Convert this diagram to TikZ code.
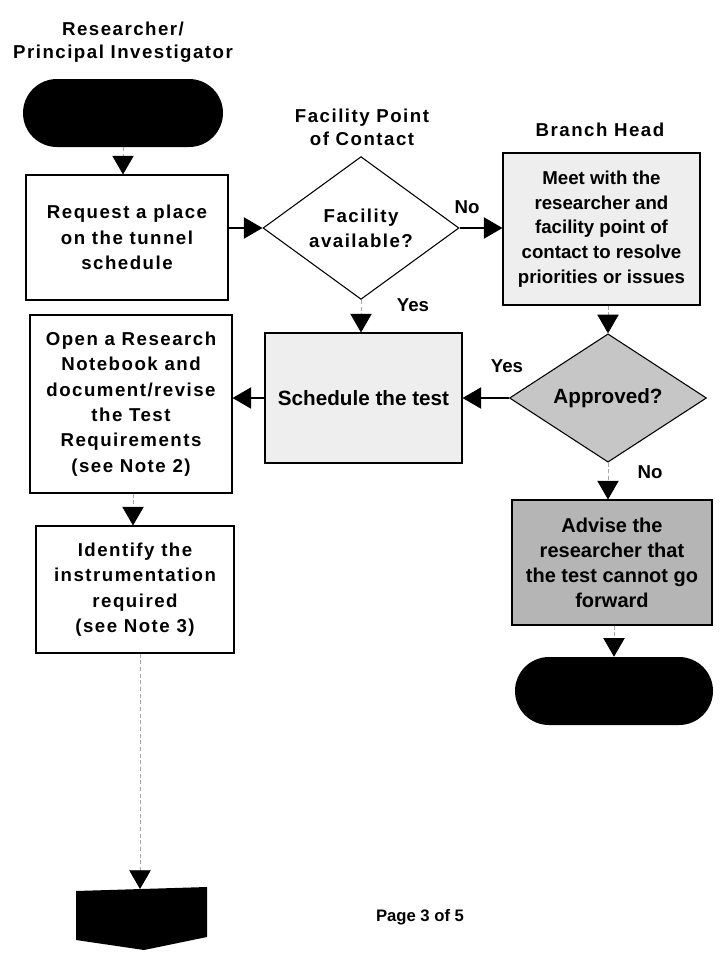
\documentclass[tikz,border=0pt]{standalone}
\usepackage{fontspec}
\setmainfont{Liberation Sans}
\newfontfamily\wide[LetterSpace=8]{Liberation Sans}
\usetikzlibrary{shapes.geometric,arrows.meta}

\begin{document}
\begin{tikzpicture}[x=0.75pt,y=-0.75pt,
  boxstyle/.style={draw, line width=0.8pt, rectangle, align=center, inner sep=2pt},
  lanetitle/.style={align=center, font=\wide\bfseries\fontsize{14}{17.5}\selectfont},
  widetext/.style={font=\wide\bfseries\fontsize{14}{19}\selectfont},
  plaintext/.style={font=\bfseries\fontsize{14}{18.5}\selectfont},
  lightfill/.style={fill=gray!13},
  midfill/.style={fill=gray!45},
  darkfill/.style={fill=gray!58},
  decision/.style={draw, line width=0.8pt, diamond, align=center, inner sep=0pt},
  terminal/.style={fill=black, rectangle, rounded corners=25.5pt,
                   minimum height=51pt},
  flow/.style={line width=0.9pt, -{Triangle[width=16pt,length=14pt]}},
  vflow/.style={line width=0.6pt, draw=gray!70, densely dashed,
                -{Triangle[width=16pt,length=14pt,color=black]}},
  answer/.style={font=\bfseries\fontsize{14}{16}\selectfont}
]
\useasboundingbox (0,0) rectangle (720,961);

% swimlane headings
\node[lanetitle] (t1) at (123,42) {Researcher/\\Principal Investigator};
\node[lanetitle] (t2) at (362,127) {Facility Point\\of Contact};
\node[lanetitle] (t3) at (600,130) {Branch Head};

% researcher column
\node[terminal, minimum width=150pt] (start) at (123,113) {};
\node[boxstyle, widetext, minimum width=151.5pt, minimum height=93.75pt]
  (req) at (127,237.5) {Request a place\\on the tunnel\\schedule};
\node[boxstyle, widetext, minimum width=151.5pt, minimum height=133.5pt]
  (notebook) at (131,404) {Open a Research\\Notebook and\\document/revise\\the Test\\Requirements\\(see Note 2)};
\node[boxstyle, widetext, minimum width=148.5pt, minimum height=95.25pt]
  (instr) at (135,589.5) {Identify the\\instrumentation\\required\\(see Note 3)};
\coordinate (leftaxis) at (133,0);

% off-page connector
\fill (76,891) -- (207,887) -- (207,937) -- (144,950) -- (76,940) -- cycle;
\coordinate (offpage) at (140,889);

% facility point of contact column
\node[decision, widetext, minimum width=147pt, minimum height=93.75pt]
  (avail) at (361,228) {Facility\\available?};
\node[boxstyle, lightfill, plaintext, font=\bfseries\fontsize{15.5}{18}\selectfont,
      minimum width=147.75pt, minimum height=97.5pt]
  (sched) at (363.5,398) {Schedule the test};

% branch head column
\node[boxstyle, lightfill, plaintext, minimum width=147.75pt, minimum height=114pt]
  (meet) at (601.5,229) {Meet with the\\researcher and\\facility point of\\contact to resolve\\priorities or issues};
\node[decision, midfill, plaintext, font=\bfseries\fontsize{15.5}{18}\selectfont,
      minimum width=147.75pt, minimum height=95.25pt]
  (appr) at (608,398) {Approved?};
\node[boxstyle, darkfill, plaintext, font=\bfseries\fontsize{15}{18.8}\selectfont,
      minimum width=150pt, minimum height=93.75pt]
  (advise) at (612,562.5) {Advise the\\researcher that\\the test cannot go\\forward};
\node[terminal, minimum width=148.5pt] (stop) at (614,691) {};

% connectors
\draw[vflow] (start.south) -- (start.south |- req.north);
\draw[flow] (avail.west -| req.east) -- (avail.west);
\draw[flow] (avail.east) -- (avail.east -| meet.west);
\draw[vflow] (avail.south) -- (avail.south |- sched.north);
\draw[vflow] (appr.north |- meet.south) -- (appr.north);
\draw[flow] (appr.west) -- (appr.west -| sched.east);
\draw[flow] (sched.west) -- (sched.west -| notebook.east);
\draw[vflow] (appr.south) -- (appr.south |- advise.north);
\draw[vflow] (stop.north |- advise.south) -- (stop.north);
\draw[vflow] (leftaxis |- notebook.south) -- (leftaxis |- instr.north);
\draw[vflow] (offpage |- instr.south) -- (offpage);

% branch labels
\node[answer] (no1) at (467,207) {No};
\node[answer] (yes1) at (413,305) {Yes};
\node[answer] (yes2) at (507,366) {Yes};
\node[answer] (no2) at (650,472) {No};

% footer
\node[font=\bfseries\fontsize{12.5}{14}\selectfont] (page) at (420,917) {Page 3 of 5};
\end{tikzpicture}
\end{document}
